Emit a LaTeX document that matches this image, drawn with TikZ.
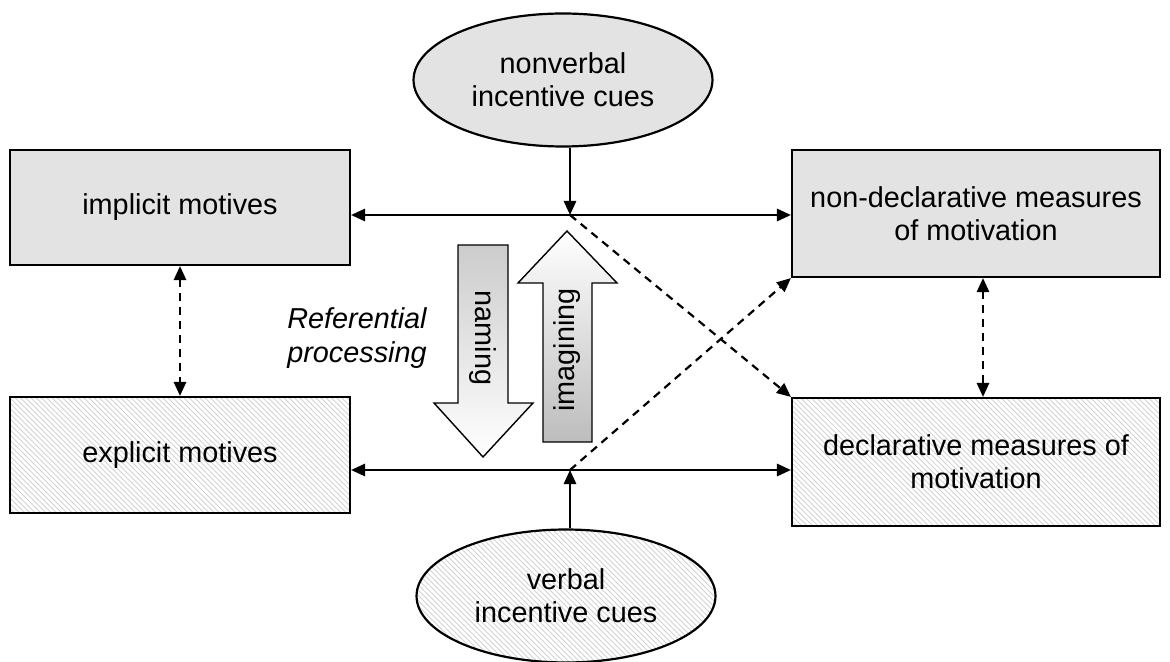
\documentclass[tikz,border=0pt]{standalone}
\usepackage{fontspec}
\setmainfont{Liberation Sans}
\usetikzlibrary{arrows.meta, positioning, shapes.geometric, patterns, calc}

\begin{document}
\begin{tikzpicture}[
        x=0.02cm, y=-0.02cm,
        font=\fontsize{16.4}{19}\selectfont,
        >={Triangle[length=8pt, width=7pt]},
        dotbox/.style={rectangle, draw, line width=1.25pt, fill=black!11,
                    minimum width=6.8cm, align=center},
        hatchbox/.style={rectangle, draw, line width=1.25pt,
                    pattern=north west lines, pattern color=black!20,
                    minimum width=6.8cm, align=center},
        cue/.style={ellipse, draw, line width=1.25pt, minimum width=5.98cm,
                    minimum height=2.66cm, align=center},
        link/.style={line width=1.25pt, <->},
        feed/.style={line width=1.25pt, ->},
        guess/.style={line width=1.25pt, dash pattern=on 4.5pt off 3.4pt},
        bigarrow/.style={draw, line width=0.8pt}
      ]
        \useasboundingbox (0,0) rectangle (1170,662);

        % motive boxes
        \node[dotbox,   minimum height=2.3cm]  (implicit) at (180,207.5) {implicit motives};
        \node[hatchbox, minimum height=2.32cm] (explicit) at (180,455) {explicit motives};
        \node[dotbox,   minimum width=7.36cm, minimum height=2.54cm] (nondecl) at (976,213.5)
          {non-declarative measures\\of motivation};
        \node[hatchbox, minimum width=7.36cm, minimum height=2.56cm] (decl) at (976,462)
          {declarative measures of\\motivation};

        % incentive cues
        \node[cue, fill=black!11] (nonverbal) at (563,80) {nonverbal\\incentive cues};
        \node[cue, pattern=north west lines, pattern color=black!20] (verbal) at (566,596)
          {verbal\\incentive cues};

        \coordinate (jtop) at (570,215);
        \coordinate (jbot) at (570,470);

        % connectors
        \draw[link] (implicit.east |- jtop) -- (nondecl.west |- jtop);
        \draw[link] (explicit.east |- jbot) -- (decl.west |- jbot);
        \draw[feed] (nonverbal.south -| jtop) -- (jtop);
        \draw[feed] (verbal.north -| jbot) -- (jbot);
        \draw[guess, ->] (jtop) -- (decl.north west);
        \draw[guess, ->] (jbot) -- (nondecl.south west);
        \draw[guess, <->] (implicit.south) -- (explicit.north);
        \draw[guess, <->] ($(nondecl.south)+(7,0)$) -- ($(decl.north)+(7,0)$);

        % referential processing
        \draw[bigarrow, top color=black!20, bottom color=white]
          (458,245) -- (508,245) -- (508,403) -- (533,403) -- (483,457)
          -- (434,403) -- (458,403) -- cycle;
        \draw[bigarrow, top color=white, bottom color=black!26]
          (543,442) -- (592,442) -- (592,283) -- (617,283) -- (567,231)
          -- (518,283) -- (543,283) -- cycle;
        \node[rotate=-90] (naming) at (483,338) {naming};
        \node[rotate=90] (imagining) at (567,350) {imagining};
        \node[font=\fontsize{16.4}{19}\selectfont\itshape, align=center] (refproc) at (357,338)
          {Referential\\processing};
      \end{tikzpicture}
\end{document}
